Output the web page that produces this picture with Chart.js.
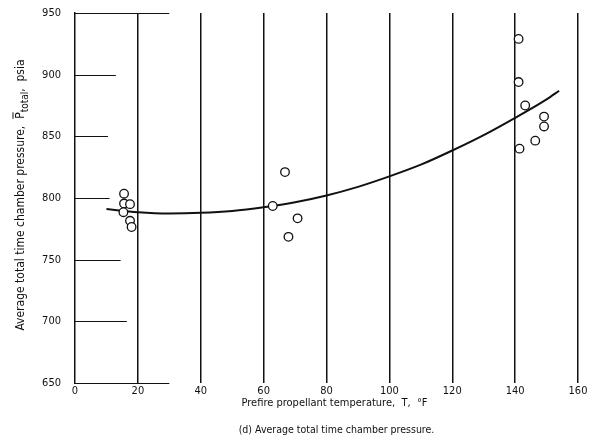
<!DOCTYPE html>
<html>
<head>
<meta charset="utf-8">
<script src="https://cdn.jsdelivr.net/npm/chart.js@4/dist/chart.umd.min.js"></script>
<style>
  html, body { margin: 0; background: #fff; }
  canvas { display: block; }
</style>
</head>
<body>
<canvas id="pressureChart" width="599" height="447"></canvas>
<script>
// measured points, prefire temperature (F) vs average total time chamber pressure (psia)
const pointTemps = [15.6, 15.6, 17.5, 15.4, 17.5, 18.0, 66.8, 62.9, 70.8, 67.9, 141.1, 141.1, 143.2, 149.2, 149.2, 146.4, 141.4];
const pointPressures = [803.5, 795.5, 795, 788.5, 781.5, 776.5, 821, 793.5, 783.5, 768.5, 929, 894, 875, 866, 858, 846.5, 840];

// faired curve
const curveTemps = [10, 20, 30, 40, 50, 60, 70, 80, 90, 100, 110, 120, 130, 140, 150, 154];
const curvePressures = [791, 788.5, 787.5, 788, 789.5, 792.5, 796.5, 802, 809, 817.5, 827, 838.5, 851, 865, 880, 887];

// the horizontal rules only run a short way in from the left axis
const gridLevels = [650, 700, 750, 800, 850, 900, 950];
const gridEnds = [30, 16.5, 14.5, 11, 10.5, 13, 30];

const FONT = "'DejaVu Sans Condensed', 'Liberation Sans Narrow', sans-serif";
const INK = '#111';

const sketchPlugin = {
    id: 'sketch',
    beforeDatasetsDraw(chart) {
        const { ctx, scales: { x, y } } = chart;
        ctx.save();
        ctx.strokeStyle = INK;
        ctx.lineWidth = 1.2;
        gridLevels.forEach((v, i) => {
            const py = Math.round(y.getPixelForValue(v)) + 0.5;
            ctx.beginPath();
            ctx.moveTo(x.getPixelForValue(0), py);
            ctx.lineTo(x.getPixelForValue(gridEnds[i]), py);
            ctx.stroke();
        });
        ctx.restore();
    },
    afterDraw(chart) {
        const { ctx, chartArea } = chart;
        ctx.save();
        ctx.fillStyle = INK;
        ctx.textBaseline = 'middle';
        ctx.textAlign = 'center';
        ctx.font = `11px ${FONT}`;
        const cx = (chartArea.left + chartArea.right) / 2;
        ctx.fillText('Prefire propellant temperature,  T,  \u00B0F', cx + 8, 403);
        ctx.font = `10.5px ${FONT}`;
        ctx.fillText('(d) Average total time chamber pressure.', cx + 10, 430);

        // rotated y title with overlined P and subscript
        ctx.translate(21, 195);
        ctx.rotate(-Math.PI / 2);
        ctx.textAlign = 'left';
        const partA = 'Average total time chamber pressure,  ';
        const partC = ',  psia';
        ctx.font = `12px ${FONT}`;
        const wA = ctx.measureText(partA).width;
        const wP = ctx.measureText('P').width;
        const wC = ctx.measureText(partC).width;
        ctx.font = `10px ${FONT}`;
        const wS = ctx.measureText('total').width;
        const total = wA + wP + wS + wC;
        let px = -total / 2;
        ctx.font = `12px ${FONT}`;
        ctx.fillText(partA, px, 0);
        px += wA;
        ctx.fillText('P', px, 0);
        ctx.beginPath();
        ctx.lineWidth = 1;
        ctx.strokeStyle = INK;
        ctx.moveTo(px, -8);
        ctx.lineTo(px + wP, -8);
        ctx.stroke();
        px += wP;
        ctx.font = `10px ${FONT}`;
        ctx.fillText('total', px, 4.5);
        px += wS;
        ctx.font = `12px ${FONT}`;
        ctx.fillText(partC, px, 0);
        ctx.restore();
    }
};

const ctx = document.getElementById('pressureChart').getContext('2d');
new Chart(ctx, {
    type: 'scatter',
    data: {
        datasets: [{
            label: 'Data',
            data: pointTemps.map((t, i) => ({ x: t, y: pointPressures[i] })),
            pointRadius: 4.3,
            pointBorderWidth: 1.3,
            pointBorderColor: INK,
            pointBackgroundColor: '#fff',
            showLine: false,
            order: 0
        }, {
            label: 'Curve',
            data: curveTemps.map((t, i) => ({ x: t, y: curvePressures[i] })),
            showLine: true,
            pointRadius: 0,
            borderColor: INK,
            borderWidth: 2,
            cubicInterpolationMode: 'monotone',
            order: 1
        }]
    },
    options: {
        responsive: false,
        animation: false,
        events: [],
        layout: { padding: { top: 13, right: 21, left: 0, bottom: 0 } },
        plugins: {
            legend: { display: false },
            tooltip: { enabled: false }
        },
        scales: {
            x: {
                type: 'linear',
                min: 0,
                max: 160,
                afterFit: s => { s.height = 64; },
                border: { display: false },
                grid: {
                    drawTicks: false,
                    lineWidth: 1.5,
                    color: c => (c.tick && c.tick.value === 0) ? 'rgba(0,0,0,0)' : INK
                },
                ticks: {
                    stepSize: 20,
                    padding: 2,
                    color: INK,
                    font: { family: FONT, size: 11 },
                    maxRotation: 0
                }
            },
            y: {
                min: 650,
                max: 950,
                afterFit: s => { s.width = 75; s.paddingTop = 0; s.paddingBottom = 0; },
                border: { display: true, color: INK, width: 1.5 },
                grid: { display: false, drawTicks: false },
                ticks: {
                    stepSize: 50,
                    padding: 14,
                    color: INK,
                    font: { family: FONT, size: 11 }
                }
            }
        }
    },
    plugins: [sketchPlugin]
});
</script>
</body>
</html>
